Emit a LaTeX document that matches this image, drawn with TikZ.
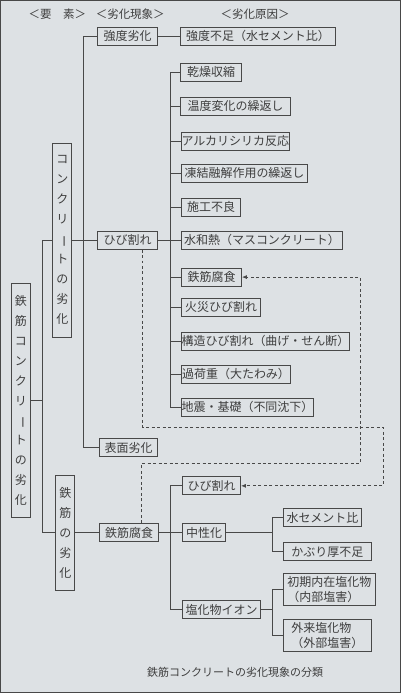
\documentclass[tikz,border=0pt]{standalone}
\usepackage{fontspec}
\usepackage{graphicx}
\setmainfont{Noto Sans CJK JP}
\usetikzlibrary{arrows.meta,calc}
\definecolor{bg}{RGB}{221,225,228}
\definecolor{linec}{RGB}{72,72,72}
\definecolor{txtc}{RGB}{62,62,62}
\newcommand{\vbar}{\rotatebox[origin=c]{-90}{ー}}
\begin{document}
\begin{tikzpicture}[x=1pt,y=-1pt,
  every path/.style={draw=linec,line width=0.8pt},
  bx/.style={draw=linec,line width=0.8pt,fill=bg,minimum height=18pt,inner xsep=0pt,inner ysep=0pt,anchor=west,text=txtc,font=\fontsize{12}{14}\selectfont},
  bx2/.style={bx,minimum height=32pt,align=left,font=\fontsize{12}{15}\selectfont},
  vbx/.style={draw=linec,line width=0.8pt,fill=bg,inner sep=0pt,align=center,text=txtc,font=\fontsize{12}{20}\selectfont,minimum width=19pt},
  hdr/.style={text=txtc,font=\fontsize{11.5}{13}\selectfont},
  dsh/.style={draw=linec,line width=0.8pt,dash pattern=on 3pt off 2.5pt},
  arr/.style={-{Latex[length=5pt,width=4pt]}}]
\fill[bg] (0,0) rectangle (400,693);
\useasboundingbox (0,0) rectangle (400,693);
% headers
\node[hdr] (h1) at (57,14) {＜要　素＞};
\node[hdr] (h2) at (130,14) {＜劣化現象＞};
\node[hdr] (h3) at (255,14) {＜劣化原因＞};
% elements
\node[vbx,minimum height=194pt] (e1) at (62,240) {コ\\ン\\ク\\リ\\\vbar\\ト\\の\\劣\\化};
\node[vbx,minimum height=235pt] (e0) at (20.5,400.5) {鉄\\筋\\コ\\ン\\ク\\リ\\\vbar\\ト\\の\\劣\\化};
\node[vbx,minimum height=115pt] (e2) at (65,533) {鉄\\筋\\の\\劣\\化};
% phenomena
\node[bx,minimum width=60pt] (s1) at (97,36) {強度劣化};
\node[bx,minimum width=60pt] (s2) at (97,240) {ひび割れ};
\node[bx,minimum width=58pt] (s3) at (99,448) {表面劣化};
\node[bx,minimum width=59pt] (s4) at (99,533) {鉄筋腐食};
% causes (concrete)
\node[bx,minimum width=155pt] (c1) at (180,36) {強度不足（水セメント比）};
\node[bx,minimum width=61pt] (c2) at (180,72) {乾燥収縮};
\node[bx,minimum width=110pt] (c3) at (180,106) {温度変化の繰返し};
\node[bx,minimum width=107pt] (c4) at (181,141) {アルカリシリカ反応};
\node[bx,minimum width=126pt] (c5) at (181,173) {凍結融解作用の繰返し};
\node[bx,minimum width=59pt] (c6) at (181,207) {施工不良};
\node[bx,minimum width=161pt] (c7) at (181,240) {水和熱（マスコンクリート）};
\node[bx,minimum width=60pt] (c8) at (181,277) {鉄筋腐食};
\node[bx,minimum width=79pt] (c9) at (181,307) {火災ひび割れ};
\node[bx,minimum width=161pt] (c10) at (181,341) {構造ひび割れ（曲げ・せん断）};
\node[bx,minimum width=109pt] (c11) at (181,374) {過荷重（大たわみ）};
\node[bx,minimum width=130pt] (c12) at (181,407) {地震・基礎（不同沈下）};
% causes (rebar)
\node[bx,minimum width=58pt] (r1) at (182,486) {ひび割れ};
\node[bx,minimum width=43pt] (r2) at (182,533) {中性化};
\node[bx,minimum width=78pt] (r3) at (182,610) {塩化物イオン};
\node[bx,minimum width=78pt] (r4) at (283,518) {水セメント比};
\node[bx,minimum width=88pt] (r5) at (283,552) {かぶり厚不足};
\node[bx2,minimum width=92pt] (r6) at (283,590) {初期内在塩化物\\（内部塩害）};
\node[bx2,minimum width=88pt] (r7) at (283,636) {外来塩化物\\（外部塩害）};
% caption
\node[hdr,font=\fontsize{11}{13}\selectfont] (cap) at (235,673) {鉄筋コンクリートの劣化現象の分類};
% trunk coordinates
\coordinate (tk0) at (42,0);
\coordinate (tk1) at (83,0);
\coordinate (tk2) at (170,0);
\coordinate (tk3) at (272,0);
% element connectors
\draw (e1.west) -| (tk0 |- e2.west) -- (e2.west);
\draw (e0.east) -- (tk0 |- e0.east);
\draw (e1.east) -- (s2.west);
\draw (s1.west) -| (tk1 |- s3.west) -- (s3.west);
\draw (e2.east) -- (s4.west);
% concrete causes
\draw (s1.east) -- (c1.west);
\draw (c2.west) -| (tk2 |- c12.west) -- (c12.west);
\foreach \n in {c3,c4,c5,c6,c8,c9,c10,c11} {\draw (\n.west) -- (tk2 |- \n.west);}
\draw (s2.east) -- (c7.west);
% rebar causes
\draw (r1.west) -| (tk2 |- r3.west) -- (r3.west);
\draw (s4.east) -- (r2.west);
\draw (r2.east) -- (tk3 |- r2.east);
\draw (r4.west) -| (tk3 |- r5.west) -- (r5.west);
\draw (r3.east) -- (tk3 |- r3.east);
\draw (r6.west) -| (tk3 |- r7.west) -- (r7.west);
% dashed links
\coordinate (d1a) at (142,427);
\coordinate (d1b) at (383,427);
\coordinate (d2a) at (141,464);
\coordinate (d2b) at (360,464);
\draw[dsh,arr] (s2.south -| d1a) -- (d1a) -- (d1b) |- (r1.east);
\draw[dsh,arr] (s4.north -| d2a) -- (d2a) -- (d2b) |- (c8.east);
\end{tikzpicture}
\end{document}
